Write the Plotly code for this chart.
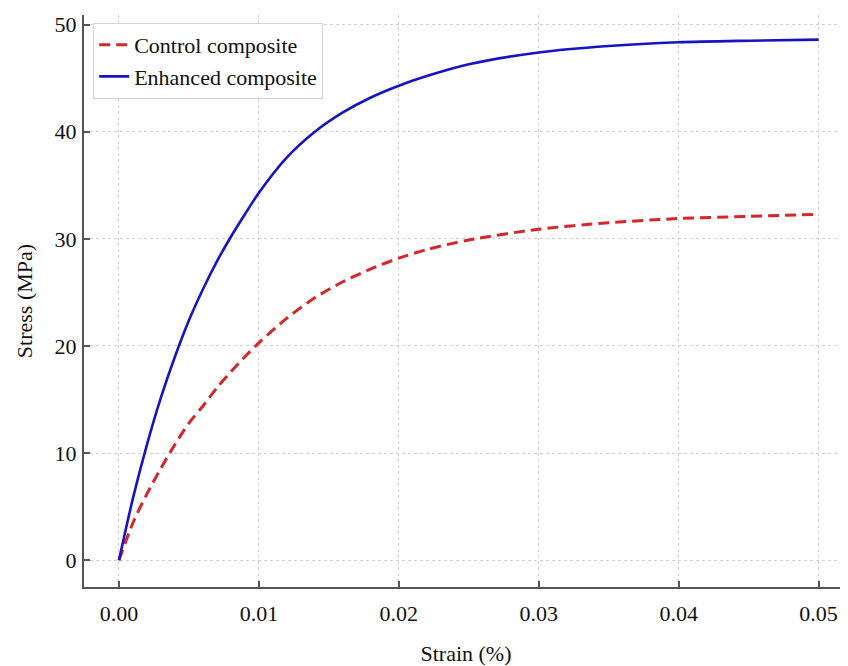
import plotly.graph_objects as go

strain = [0.000, 0.001, 0.002, 0.003, 0.004, 0.005, 0.006, 0.007, 0.008, 0.009,
          0.010, 0.012, 0.014, 0.016, 0.018, 0.020, 0.022, 0.025, 0.030, 0.035,
          0.040, 0.045, 0.050]
control_stress = [0.0, 3.5, 6.2, 8.6, 10.8, 12.8, 14.4, 16.1, 17.6, 19.0,
                  20.3, 22.6, 24.5, 26.0, 27.2, 28.2, 29.0, 29.9, 30.9, 31.5,
                  31.9, 32.1, 32.3]
enhanced_stress = [0.0, 5.8, 10.8, 15.2, 19.0, 22.4, 25.3, 27.9, 30.2, 32.3,
                   34.3, 37.6, 40.0, 41.8, 43.2, 44.3, 45.2, 46.3, 47.4, 48.0,
                   48.35, 48.5, 48.6]
x_ticks = [0.00, 0.01, 0.02, 0.03, 0.04, 0.05]
x_tick_labels = ["0.00", "0.01", "0.02", "0.03", "0.04", "0.05"]
y_ticks = [0, 10, 20, 30, 40, 50]

FONT = "Liberation Serif, Times New Roman, serif"
AXIS_COLOR = "#555555"

fig = go.Figure()
fig.add_trace(go.Scatter(
    x=strain, y=control_stress, mode="lines", name="Control composite",
    line=dict(color="#D7262B", width=3, dash="11px,6px", shape="spline", smoothing=0.8),
))
fig.add_trace(go.Scatter(
    x=strain, y=enhanced_stress, mode="lines", name="Enhanced composite",
    line=dict(color="#1414C4", width=2.6, shape="spline", smoothing=0.8),
))

# the page body adds an 8px offset; margins compensate for it
fig.update_layout(
    width=848, height=666,
    margin=dict(l=76, r=8, t=7, b=87),
    paper_bgcolor="white", plot_bgcolor="white",
    font=dict(family=FONT, size=22, color="#111111"),
    showlegend=True,
    legend=dict(
        x=0.012, y=0.986, xanchor="left", yanchor="top",
        bgcolor="white", bordercolor="#d4d4d4", borderwidth=1,
        font=dict(family=FONT, size=22, color="#111111"),
        tracegroupgap=0, itemwidth=30,
    ),
    xaxis=dict(
        range=[-0.0025, 0.0521], automargin=False,
        tickvals=x_ticks, ticktext=x_tick_labels,
        showgrid=True, gridcolor="#d0d0d0", griddash="dot", gridwidth=1,
        zeroline=False,
        showline=True, linecolor=AXIS_COLOR, linewidth=2,
        ticks="inside", ticklen=6, tickwidth=1.5, tickcolor=AXIS_COLOR,
        ticklabelstandoff=6,
        tickfont=dict(family=FONT, size=22),
        title=dict(text="Strain (%)", font=dict(family=FONT, size=22), standoff=20),
    ),
    yaxis=dict(
        range=[-2.5, 50.9], automargin=False,
        tickvals=y_ticks,
        showgrid=True, gridcolor="#d0d0d0", griddash="dot", gridwidth=1,
        zeroline=False,
        showline=True, linecolor=AXIS_COLOR, linewidth=2,
        ticks="inside", ticklen=6, tickwidth=1.5, tickcolor=AXIS_COLOR,
        ticklabelstandoff=1,
        tickfont=dict(family=FONT, size=22),
        title=dict(text="Stress (MPa)", font=dict(family=FONT, size=22), standoff=16),
    ),
)

fig.write_html("out.html")
